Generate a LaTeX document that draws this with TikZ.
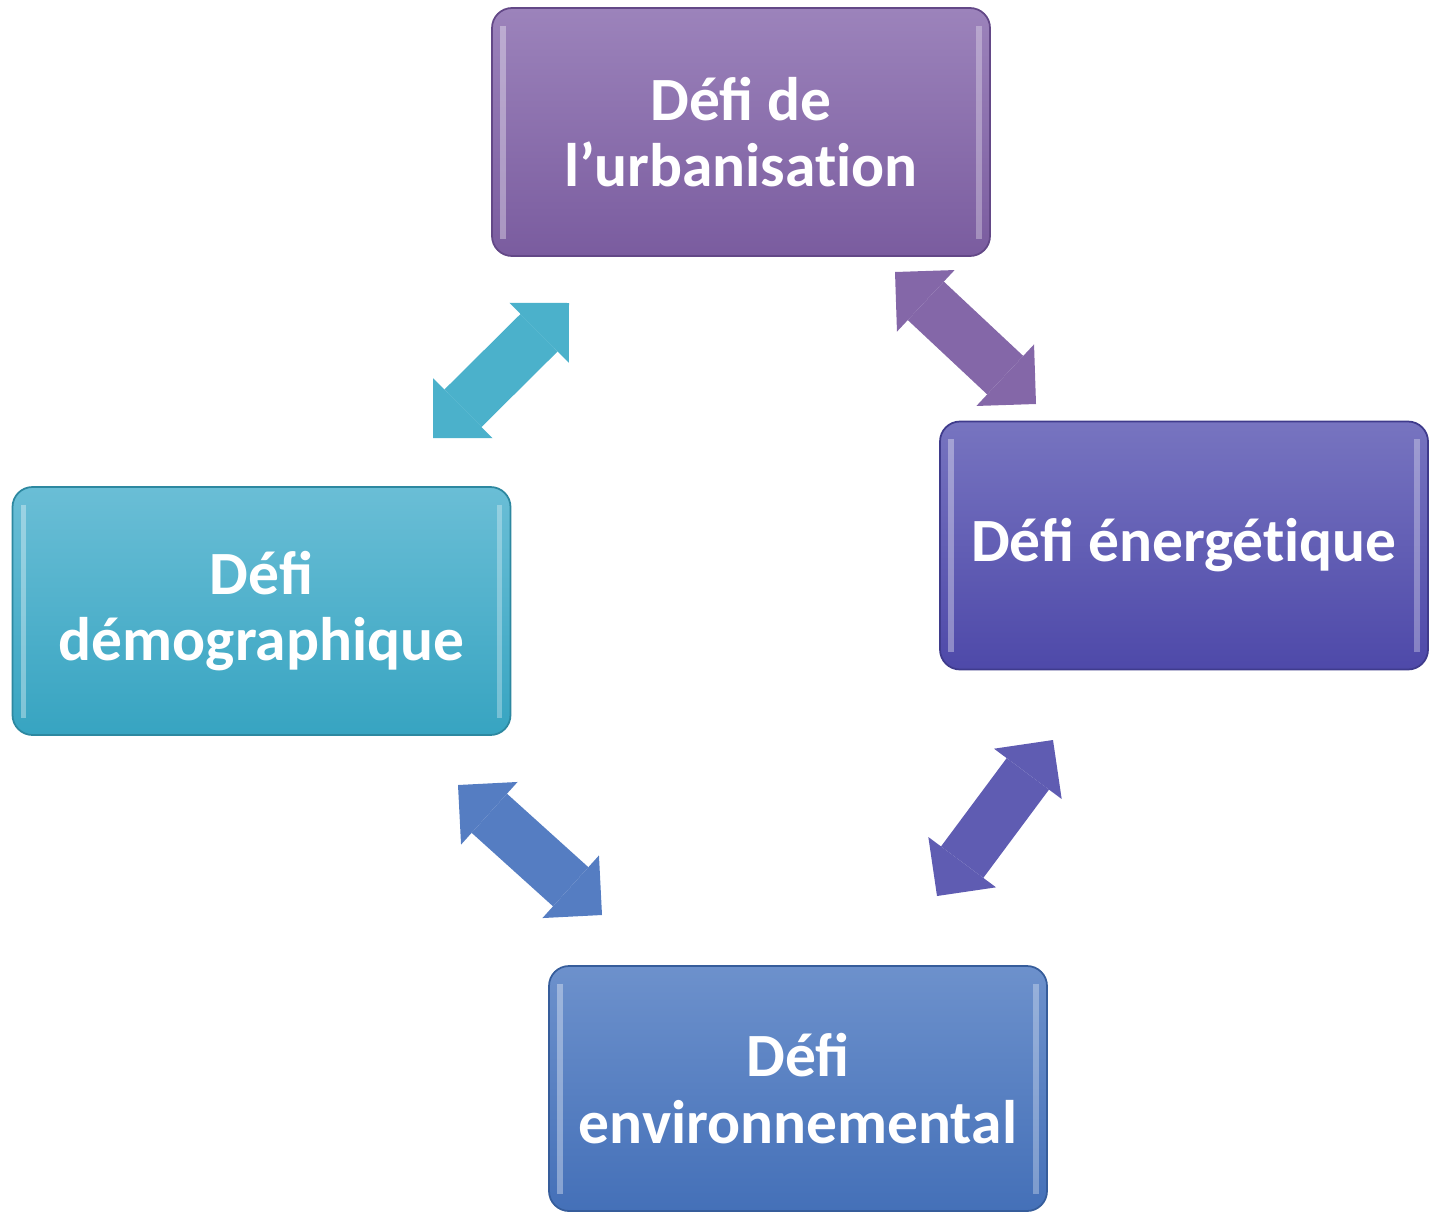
\documentclass[tikz,border=0pt]{standalone}
\usepackage{fontspec}
\setmainfont{Carlito}[Ligatures=NoCommon]
\usetikzlibrary{arrows.meta,calc}

\definecolor{urbtop}{HTML}{9C83BB}
\definecolor{urbbot}{HTML}{7A5C9F}
\definecolor{urbdark}{HTML}{634887}
\definecolor{enetop}{HTML}{7774C0}
\definecolor{enebot}{HTML}{4E49A9}
\definecolor{enedark}{HTML}{3F3B8C}
\definecolor{demtop}{HTML}{6ABED6}
\definecolor{dembot}{HTML}{37A4C1}
\definecolor{demdark}{HTML}{2D88A0}
\definecolor{envtop}{HTML}{6D91CC}
\definecolor{envbot}{HTML}{4470B8}
\definecolor{envdark}{HTML}{365D9B}
\definecolor{tealarrow}{HTML}{4BB1CB}
\definecolor{purplearrow}{HTML}{8467A8}
\definecolor{indigoarrow}{HTML}{5F5CB2}
\definecolor{bluearrow}{HTML}{557DC2}

\begin{document}
\begin{tikzpicture}[
  defi/.style={rectangle, rounded corners=0.4cm, draw=#1dark, line width=1pt,
    top color=#1top, bottom color=#1bot, text=white, align=center,
    font=\fontsize{35}{38}\selectfont\bfseries, inner sep=0pt,
    minimum width=9.96cm, minimum height=4.96cm,
    path picture={
      \draw[white, opacity=0.35, line width=3pt]
        ($(path picture bounding box.north west)+(0.22,-0.35)$) --
        ($(path picture bounding box.south west)+(0.22,0.35)$);
      \draw[white, opacity=0.3, line width=3pt]
        ($(path picture bounding box.north east)+(-0.22,-0.35)$) --
        ($(path picture bounding box.south east)+(-0.22,0.35)$);}},
  lien/.style={draw=#1, line width=30pt, line cap=butt,
    {Triangle[width=48pt,length=24pt,line width=0pt]}-{Triangle[width=48pt,length=24pt,line width=0pt]}}
]
\useasboundingbox (0,0) rectangle (28.58,-24.24);

% the four challenges
\node (urb) at (14.82,-2.64) [defi=urb] {Déﬁ de\\l’urbanisation};
\node (ene) at (23.68,-10.91) [defi=ene, minimum width=9.76cm] {Déﬁ énergétique};
\node (dem) at (5.23,-12.22) [defi=dem] {Déﬁ\\démographique};
\node (env) at (15.96,-21.77) [defi=env, minimum height=4.9cm] {Déﬁ\\environnemental};

% arrow ends
\coordinate (t1) at (8.66,-8.76);
\coordinate (t2) at (11.38,-6.06);
\coordinate (p1) at (17.90,-5.44);
\coordinate (p2) at (20.72,-8.08);
\coordinate (i1) at (18.74,-17.92);
\coordinate (i2) at (21.06,-14.80);
\coordinate (b1) at (9.16,-15.70);
\coordinate (b2) at (12.04,-18.30);

\draw[lien=tealarrow] (t1) -- (t2);
\draw[lien=purplearrow] (p1) -- (p2);
\draw[lien=indigoarrow] (i1) -- (i2);
\draw[lien=bluearrow] (b1) -- (b2);

\end{tikzpicture}
\end{document}
